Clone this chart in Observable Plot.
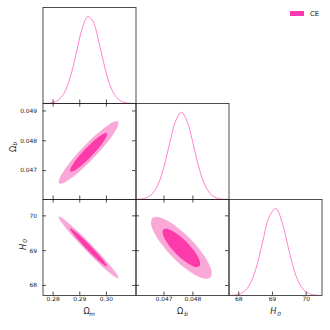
<!DOCTYPE html>
<html><head><meta charset="utf-8">
<script src="https://cdn.jsdelivr.net/npm/d3@7"></script>
<script src="https://cdn.jsdelivr.net/npm/@observablehq/plot@0.6"></script>
<style>
body{margin:0;background:#fff;}
#chart{position:relative;width:330px;height:330px;font-family:"DejaVu Sans",sans-serif;}
#chart svg{position:absolute;left:0;top:0;}
#legend{position:absolute;left:290px;top:9.6px;display:flex;align-items:center;font-size:6.8px;line-height:8px;color:#222;}
#legend .sw{display:inline-block;width:14px;height:4.6px;margin-right:6px;}
</style></head><body>
<div id="chart"><div id="legend"><span class="sw"></span><span id="legtext"></span></div></div>
<script>
// ---- data ----
const seriesName = "CE";
const omTicks = [0.28, 0.29, 0.30];
const obXTicks = [0.047, 0.048];
const obYTicks = [0.047, 0.048, 0.049];
const h0Ticks = [68, 69, 70];

const omDomain = [0.2762, 0.3111];
const obDomain = [0.04603, 0.04925];
const h0Domain = [67.71, 70.47];

// 1D marginal densities (peak-normalised)
const omGrid = [0.277,0.279,0.281,0.283,0.285,0.287,0.289,0.291,0.293,0.295,0.297,0.299,0.301,0.303,0.305,0.307,0.309,0.311];
const omDens = [0.0013,0.006,0.022,0.069,0.175,0.364,0.619,0.868,0.996,0.938,0.726,0.463,0.240,0.103,0.036,0.010,0.0024,0.0005];
const obGrid = [0.0460,0.0462,0.0464,0.0466,0.0468,0.0470,0.0472,0.0474,0.0476,0.0478,0.0480,0.0482,0.0484,0.0486,0.0488,0.0490,0.0492];
const obDens = [0.001,0.005,0.020,0.067,0.177,0.377,0.649,0.897,1.0,0.897,0.649,0.377,0.177,0.067,0.020,0.005,0.001];
const h0Grid = [67.7,67.9,68.1,68.3,68.5,68.7,68.9,69.1,69.3,69.5,69.7,69.9,70.1,70.3,70.5];
const h0Dens = [0.0009,0.006,0.029,0.108,0.296,0.60,0.897,0.997,0.82,0.50,0.224,0.076,0.019,0.0034,0.0005];

// 2D contour outlines (95% outer, 68% inner)
const omObOuter = [[0.30439,0.048647],[0.30280,0.048638],[0.29976,0.048472],[0.29574,0.048175],[0.29135,0.047792],[0.28725,0.047382],[0.28408,0.047006],[0.28231,0.046722],[0.28221,0.046573],[0.28380,0.046582],[0.28684,0.046748],[0.29086,0.047045],[0.29525,0.047428],[0.29935,0.047838],[0.30252,0.048214],[0.30429,0.048498]];
const omObInner = [[0.30016,0.048252],[0.29918,0.048246],[0.29730,0.048143],[0.29481,0.047960],[0.29209,0.047723],[0.28956,0.047469],[0.28759,0.047236],[0.28650,0.047060],[0.28644,0.046968],[0.28742,0.046974],[0.28930,0.047077],[0.29179,0.047260],[0.29451,0.047497],[0.29704,0.047751],[0.29901,0.047984],[0.30010,0.048160]];
const omH0Outer = [[0.30451,68.203],[0.30406,68.302],[0.30196,68.521],[0.29855,68.826],[0.29434,69.172],[0.28997,69.506],[0.28611,69.776],[0.28334,69.941],[0.28209,69.977],[0.28254,69.878],[0.28464,69.659],[0.28805,69.354],[0.29226,69.008],[0.29663,68.675],[0.30049,68.405],[0.30326,68.239]];
const omH0Inner = [[0.30024,68.541],[0.29996,68.602],[0.29866,68.738],[0.29655,68.927],[0.29394,69.141],[0.29124,69.347],[0.28885,69.514],[0.28713,69.617],[0.28636,69.639],[0.28664,69.578],[0.28794,69.442],[0.29005,69.253],[0.29266,69.039],[0.29536,68.833],[0.29775,68.666],[0.29947,68.563]];
const obH0Outer = [[0.048607,68.228],[0.048648,68.392],[0.048529,68.661],[0.048269,68.994],[0.047907,69.340],[0.047498,69.646],[0.047105,69.866],[0.046787,69.967],[0.046593,69.932],[0.046552,69.768],[0.046671,69.499],[0.046931,69.166],[0.047293,68.820],[0.047702,68.514],[0.048095,68.294],[0.048413,68.193]];
const obH0Inner = [[0.048223,68.553],[0.048248,68.654],[0.048175,68.821],[0.048014,69.027],[0.047790,69.241],[0.047537,69.430],[0.047294,69.567],[0.047097,69.629],[0.046977,69.608],[0.046952,69.506],[0.047025,69.339],[0.047186,69.133],[0.047410,68.919],[0.047663,68.730],[0.047906,68.593],[0.048103,68.531]];

// ---- styling ----
const lineColor = "#ff62c2";
const lightFill = "#f9a8d8";
const darkFill = "#fc3aa9";
const legendColor = "#ff3ab0";
const ink = "#222";
const cols = [42.5, 135.5, 228.5, 321.5];
const rows = [7, 103, 199, 295];
const W = 93, H = 96, TK = 3.5;
const tickFont = 5.9, labFont = 8.2, subFont = 5.8;

document.querySelector("#legend .sw").style.background = legendColor;
document.getElementById("legtext").textContent = seriesName;

function ticksBottom(t){ return Plot.tickX(t,{x:d=>d, insetTop:H-TK, stroke:ink, strokeWidth:0.8}); }
function ticksTop(t){ return Plot.tickX(t,{x:d=>d, insetBottom:H-TK, stroke:ink, strokeWidth:0.8}); }
function ticksLeft(t){ return Plot.tickY(t,{y:d=>d, insetRight:W-TK, stroke:ink, strokeWidth:0.8}); }
function ticksRight(t){ return Plot.tickY(t,{y:d=>d, insetLeft:W-TK, stroke:ink, strokeWidth:0.8}); }
function contour(pts, fill){ return Plot.line(pts,{x:d=>d[0], y:d=>d[1], curve:"catmull-rom-closed", fill, stroke:"none"}); }
function density(gx, gy){ return Plot.line(gy,{x:gx, y:gy, curve:"catmull-rom", stroke:lineColor, strokeWidth:0.8, clip:true}); }
function xLabel(main, sub, italicMain, dxm, dxs){
  return [
    Plot.text([main],{text:d=>d, frameAnchor:"bottom", dx:dxm, dy:16, fontSize:labFont, lineAnchor:"middle", fill:ink, fontStyle: italicMain?"italic":"normal"}),
    Plot.text([sub],{text:d=>d, frameAnchor:"bottom", dx:dxs, dy:18.3, fontSize:subFont, lineAnchor:"middle", fill:ink, fontStyle:"italic"})
  ];
}
function yLabel(main, sub, italicMain, dxm, dym, dxs, dys){
  return [
    Plot.text([main],{text:d=>d, frameAnchor:"left", dx:dxm, dy:dym, rotate:-90, fontSize:labFont, lineAnchor:"middle", fill:ink, fontStyle: italicMain?"italic":"normal"}),
    Plot.text([sub],{text:d=>d, frameAnchor:"left", dx:dxs, dy:dys, rotate:-90, fontSize:subFont, lineAnchor:"middle", fill:ink, fontStyle:"italic"})
  ];
}
function panel(ci, ri, xs, ys, marks){
  return Plot.plot({
    width:330, height:330,
    marginLeft:cols[ci], marginRight:330-cols[ci+1],
    marginTop:rows[ri], marginBottom:330-rows[ri+1],
    x:xs, y:ys,
    style:{background:"transparent", overflow:"visible", fontFamily:"DejaVu Sans", fontSize:tickFont+"px", color:ink},
    marks
  });
}
const frame = () => Plot.frame({stroke:ink, strokeWidth:0.8});

const chart = document.getElementById("chart");
const panels = [
  panel(0,0,{domain:omDomain, axis:null},{domain:[0,1.1], axis:null},[
    density(omGrid, omDens), frame(), ticksBottom(omTicks)
  ]),
  panel(0,1,{domain:omDomain, axis:null},{domain:obDomain},[
    contour(omObOuter, lightFill), contour(omObInner, darkFill), frame(),
    ticksBottom(omTicks), ticksTop(omTicks), ticksLeft(obYTicks), ticksRight(obYTicks),
    Plot.axisY({anchor:"left", ticks:obYTicks, tickSize:0, tickPadding:6, tickFormat:d3.format(".3f"), label:null, fontSize:tickFont, fill:ink}),
    ...yLabel("Ω","b",false,-29.5,0.5,-27.6,-6)
  ]),
  panel(0,2,{domain:omDomain},{domain:h0Domain},[
    contour(omH0Outer, lightFill), contour(omH0Inner, darkFill), frame(),
    ticksBottom(omTicks), ticksTop(omTicks), ticksLeft(h0Ticks), ticksRight(h0Ticks),
    Plot.axisX({anchor:"bottom", ticks:omTicks, tickSize:0, tickPadding:1.5, tickFormat:d3.format(".2f"), label:null, fontSize:tickFont, fill:ink}),
    Plot.axisY({anchor:"left", ticks:h0Ticks, tickSize:0, tickPadding:6, tickFormat:d3.format("d"), label:null, fontSize:tickFont, fill:ink}),
    ...xLabel("Ω","m",false,-2.8,2.6),
    ...yLabel("H","0",true,-19.7,2.5,-17.7,-4.8)
  ]),
  panel(1,1,{domain:obDomain, axis:null},{domain:[0,1.1], axis:null},[
    density(obGrid, obDens), frame(), ticksBottom(obXTicks)
  ]),
  panel(1,2,{domain:obDomain},{domain:h0Domain, axis:null},[
    contour(obH0Outer, lightFill), contour(obH0Inner, darkFill), frame(),
    ticksBottom(obXTicks), ticksTop(obXTicks), ticksLeft(h0Ticks), ticksRight(h0Ticks),
    Plot.axisX({anchor:"bottom", ticks:obXTicks, tickSize:0, tickPadding:1.5, tickFormat:d3.format(".3f"), label:null, fontSize:tickFont, fill:ink}),
    ...xLabel("Ω","b",false,-2.5,3.5)
  ]),
  panel(2,2,{domain:h0Domain},{domain:[0,1.1], axis:null},[
    density(h0Grid, h0Dens), frame(), ticksBottom(h0Ticks),
    Plot.axisX({anchor:"bottom", ticks:h0Ticks, tickSize:0, tickPadding:1.5, tickFormat:d3.format("d"), label:null, fontSize:tickFont, fill:ink}),
    ...xLabel("H","0",true,-2.2,3.5)
  ])
];
panels.forEach(p => chart.appendChild(p));
</script>
</body></html>
